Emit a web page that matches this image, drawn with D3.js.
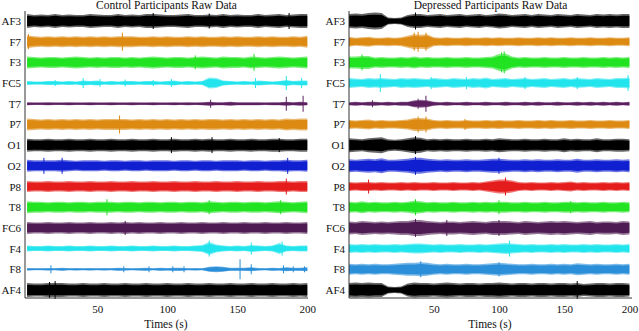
<!DOCTYPE html>
<html>
<head>
<meta charset="utf-8">
<script src="https://cdn.jsdelivr.net/npm/d3@7"></script>
<style>
  body { margin: 0; background: #fff; }
  svg { display: block; }
  svg text { font-family: "Liberation Serif", "DejaVu Serif", serif; fill: #111; }
</style>
</head>
<body>
<svg id="chart" width="639" height="331"></svg>
<script>
"use strict";

// channel names, top to bottom
var channels = ["AF3", "F7", "F3", "FC5", "T7", "P7", "O1", "O2", "P8", "T8", "FC6", "F4", "F8", "AF4"];
var channelColors = ["#000000", "#dc8a12", "#22e322", "#22e4ec", "#5c2060", "#dc8a12", "#000000",
                     "#1020d0", "#e51c1c", "#22e322", "#4e1c52", "#22e4ec", "#2a8ed8", "#000000"];
var timeTicks = [50, 100, 150, 200];

// envelope amplitude of each raw trace, read every 5 s (control: 0..200 s)
var controlTimes = [0, 5, 10, 15, 20, 25, 30, 35, 40, 45, 50, 55, 60, 65, 70, 75, 80, 85, 90, 95, 100,
                    105, 110, 115, 120, 125, 130, 135, 140, 145, 150, 155, 160, 165, 170, 175, 180, 185, 190, 195, 200];
var controlAF3 = [7,6,6.5,6,7,6,6.5,6,6,7, 6.5,6,6,7,6,6.5,6,7,7,6.5, 6,6,6.5,7,6,6,6.5,6,7,6, 6.5,6,6,7,6,6.5,7,6,6.5,7, 7];
var controlF7  = [6.5,5.5,5,5.5,5,5.5,5,5.5,5,5.5, 5,5.5,5,5.5,5.5,5.5,5,5,5.5,5, 5.5,5,5,5.5,5,5.5,5,5,5.5,5, 5.5,5,5,5.5,5,5.5,5,5,5.5,5, 6];
var controlF3  = [6,5.5,5,5.5,5.5,5,5.5,6,5.5,5, 5.5,5,5.5,5.5,5,5.5,5,5.5,6,5.5, 5,5.5,5.5,5,5.5,6,5.5,5,6,5.5, 5.5,5,6,5.5,5,5.5,6,5.5,5,5.5, 6];
var controlFC5 = [2,1.5,1.5,2,2,1.5,2,1.5,2.5,2, 2.5,1.5,2,1.5,2,2,1.5,2,2,1.5, 2,2.5,1.5,2,1.5,2,5.5,5,2.5,2, 1.5,2,1.5,2.5,2,1.5,2,3,2,2.5, 2.5];
var controlT7  = [1.5,1.2,1.2,1.5,1.2,1.2,1.5,1.2,1.2,1.5, 1.2,1.2,1.5,1.2,1.2,1.5,1.2,1.2,1.5,1.2, 1.2,1.5,1.2,1.5,1.2,1.5,2,1.5,1.5,2, 1.5,1.5,1.5,1.5,1.2,1.5,1.5,2,1.5,2, 1.5];
var controlP7  = [6,5.5,5,5.5,5,5.5,5,5.5,5,5.5, 5,5.5,5.5,5.5,5.5,5,5.5,5,5.5,5, 5.5,5,5.5,5,5.5,5,5.5,5.5,5,5.5, 5,5.5,5,5.5,5,5.5,5,6,5.5,6, 6];
var controlO1  = [6.5,6,6,6.5,6,6,6.5,6,6,6.5, 6,6,6.5,6,6,6.5,6,6,6.5,6, 6,6.5,6,6,6.5,6,6.5,6,6,6.5, 6,6,6.5,6,6,6.5,6.5,6,6,6.5, 6.5];
var controlO2  = [6,5.5,5.5,5.5,5.5,6,5.5,5,5.5,5.5, 5.5,5,5.5,5.5,5,5.5,5.5,5,5.5,5.5, 5.5,5,5.5,5.5,5,5.5,5.5,5,5.5,5.5, 5.5,5,5.5,5.5,5,5.5,5.5,6,5.5,5.5, 6];
var controlP8  = [5.5,5,5,5.5,5,5,5.5,5,5,5.5, 5,5,5.5,5,5,5.5,5,5,5.5,5, 5,5.5,5,5,5.5,5,5,5.5,5,5, 5.5,5,5,5.5,5,5,5.5,5.5,5,5.5, 5.5];
var controlT8  = [6,5.5,5.5,5,5.5,5.5,5,5.5,5.5,5, 5.5,5.5,5.5,5,5.5,5.5,5,5.5,5.5,5, 5.5,5.5,5,5.5,5.5,5,6,5.5,5,5.5, 5.5,5,5.5,5.5,5,5.5,6,5.5,5,5.5, 6];
var controlFC6 = [6,5.5,5.5,6,5.5,5.5,6,5.5,5.5,6, 5.5,5.5,6,5.5,6,5.5,6,5.5,5.5,6, 5.5,5.5,6,5.5,5.5,6,5.5,5.5,6,5.5, 5.5,6,5.5,5.5,6,5.5,5.5,6,5.5,5.5, 6];
var controlF4  = [3,2.5,2.5,3,2.5,2.5,3,2.5,2.5,3, 2.5,2.5,3,2.5,2.5,3,2.5,2.5,3,2.5, 2.5,3,2.5,2.5,3,3.5,6.5,4,3,2.5, 3,2.5,3.5,3,2.5,3,5.5,3,2.5,3, 3];
var controlF8  = [1.2,1,1,1.2,1,1.5,1,1.2,1,1.2, 1,1.2,1,1.5,1.2,1,1.2,1.5,1,1.5, 1.2,1.5,1.5,1,1.2,1,2.5,3,2.5,1.5, 1.5,1.5,2,1.2,1,1.5,1.2,2,1.5,1.5, 2];
var controlAF4 = [7,6.5,6.5,7,7,7,6.5,6.5,7,6.5, 6.5,7,6.5,6.5,7,6.5,6.5,7,6.5,6.5, 7,6.5,6.5,7,6.5,6.5,7,6.5,6.5,7, 6.5,6.5,7,6.5,6.5,7,6.5,6.5,7,6.5, 7];

// isolated spikes, [time (s), amplitude]
var controlSpikesAF3 = [[90, 8], [130, 7.5], [187, 8]];
var controlSpikesF7  = [[1, 7.5], [68, 9]];
var controlSpikesF3  = [[120, 7], [162, 8.5]];
var controlSpikesFC5 = [[20, 3], [40, 5], [52, 4], [70, 3.5], [90, 3], [103, 4], [163, 5], [185, 7], [196, 5]];
var controlSpikesT7  = [[131, 4], [185, 7], [197, 8]];
var controlSpikesP7  = [[66, 9]];
var controlSpikesO1  = [[103, 8], [132, 8], [180, 7]];
var controlSpikesO2  = [[12, 8], [25, 8], [186, 8]];
var controlSpikesP8  = [[185, 8]];
var controlSpikesT8  = [[57, 8], [130, 7], [181, 7]];
var controlSpikesFC6 = [[70, 7]];
var controlSpikesF4  = [[130, 8], [160, 6], [182, 7]];
var controlSpikesF8  = [[17, 4], [69, 3], [87, 3], [104, 3], [112, 3], [152, 10], [160, 5], [183, 4], [190, 3], [198, 3]];
var controlSpikesAF4 = [[16, 8], [20, 9]];

// depressed: recording starts a little before 0 s
var depressedTimes = [-15, -10, -5, 0, 5, 10, 15, 20, 25, 30, 35, 40, 45, 50, 55, 60, 65, 70, 75, 80, 85, 90,
                      95, 100, 105, 110, 115, 120, 125, 130, 135, 140, 145, 150, 155, 160, 165, 170, 175, 180, 185, 190, 195, 200];
var depressedAF3 = [7,7.5,7,8,8.5,8,3.5,3,3.5,6, 7,7,6,6.5,7,6,6.5,7,6,6.5, 7,6,6.5,7.5,7,6,6.5,7,6,7, 6.5,6,7,6.5,6,7,6.5,6,7,6.5, 7,6.5,7,7];
var depressedF7  = [5,4,4.5,5,4,4,4.5,4,4.5,6, 7.5,7,7.5,4.5,4,4.5,4,4,4.5,4, 4,4.5,4,4.5,4,4,4.5,4,4,4.5, 4,4.5,4,4,4.5,4,4,4.5,4,4, 4.5,4,4,4.5];
var depressedF3  = [6,6,6.5,6.5,5,5.5,5,5,5.5,5, 6,5,5.5,5,5,5.5,5,5,5.5,5, 5,5.5,6,8.5,9,6,5,5.5,5,5, 5.5,5,5,5.5,5,5,5.5,5,5,5.5, 5,5.5,5,5.5];
var depressedFC5 = [5,4.5,4,5,4.5,5,4.5,4,5,4.5, 5,4.5,4,5,4.5,4,5,4.5,4,5, 4.5,5.5,4,4.5,5,4,4.5,5,4,4.5, 5,4,4.5,5,4,5,4.5,4,5,4.5, 4,5,5,5.5];
var depressedT7  = [1.5,2,1.5,2,2,1.5,2,1.5,2,2, 3.5,4,3.5,2,1.5,2,1.5,1.5,2,1.5, 1.5,2,1.5,1.5,2,1.5,1.5,2,1.5,2, 1.5,1.5,2,1.5,1.5,2,1.5,2,1.5,2, 1.5,2,1.5,2];
var depressedP7  = [4.5,4,4.5,5,4,4.5,4,4,4.5,5, 6.5,6.5,6,4.5,4,4.5,4,4,4.5,4, 4,4.5,4,4.5,4,4,4.5,4,4,4.5, 4,4.5,4,4,4.5,4,4,4.5,4,4, 4.5,4,4,4.5];
var depressedO1  = [7,6.5,6,7,7.5,8,6,5.5,6,7, 8,7.5,6,6.5,6,6.5,6,6,6.5,6, 6,6.5,6,7,6.5,6,6,6.5,6,6, 6.5,6,6,7,6,6.5,6,6,7,6, 6,6.5,6.5,6];
var depressedO2  = [6.5,6,6.5,7,6.5,7.5,6,6,6.5,7, 8,8,7,6.5,6,6.5,6,6,6.5,6, 6,6.5,7,7,6.5,6,6,6.5,6,6.5, 6,6,6.5,6,6,7,6,6,6.5,6, 6,6.5,6,6.5];
var depressedP8  = [4.5,4,4.5,4.5,4,4.5,4,4,4.5,4, 4.5,4,4,4.5,4,4,4.5,4,4,4.5, 4,5,6,7,7,6,4.5,4,4.5,4, 4,4.5,4,4.5,5,4,4.5,4,4,4.5, 4,4.5,4,4.5];
var depressedT8  = [5.5,5,6,5,5.5,5,5,5.5,5,5.5, 6.5,6,5,5.5,5,5,5.5,5,5,5.5, 5,5.5,5,5.5,5.5,5,5,5.5,5,5, 5.5,5,5,5.5,5.5,5,5.5,5,5,5.5, 5,5,5.5,5];
var depressedFC6 = [6.5,6,7,6.5,6,6.5,6,6.5,7,7, 8,8,7,6.5,6,6.5,6.5,6,6.5,7, 6.5,6,7,7,7,6.5,6,7,6.5,6, 6.5,7,6.5,7,6.5,6,6.5,7,6,6.5, 6.5,6,7,6.5];
var depressedF4  = [4.5,4,4.5,4,4.5,4,4,4.5,4,4.5, 5,5,4.5,4,4.5,4,4,4.5,4,4, 4.5,4,4.5,5,5.5,5,4.5,4,4.5,4, 4,4.5,4,4.5,4,4,4.5,4,4.5,4, 4,4.5,4,4.5];
var depressedF8  = [5.5,5,5.5,5,5.5,5,5,5.5,6,6.5, 6.5,7,6.5,5.5,5,5.5,5,5,5.5,5, 5,5.5,6,6.5,6,5.5,5,5,5.5,5, 5,5.5,5,5.5,5,6,5.5,5,5.5,5, 5,5.5,5,5.5];
var depressedAF4 = [7,7.5,7,7.5,7,7,3.5,3,3.5,6.5, 7.5,7,7,6.5,7,7.5,7,6.5,7,7, 6.5,7,7,7.5,7,6.5,7,7,6.5,7, 7,6.5,7,7,6.5,7,6,6.5,7,7, 6.5,7,7,6.5];

var depressedSpikesAF3 = [[36, 8.5]];
var depressedSpikesF7  = [[35, 9], [38, 10], [44, 9]];
var depressedSpikesF3  = [[-5, 8], [102, 10], [104, 11]];
var depressedSpikesFC5 = [[9, 9], [48, 6], [75, 6], [120, 6], [160, 6], [199, 8]];
var depressedSpikesT7  = [[3, 3.5], [38, 5], [44, 8]];
var depressedSpikesP7  = [[38, 8], [44, 8], [74, 5.5]];
var depressedSpikesO1  = [[36, 9]];
var depressedSpikesO2  = [[36, 9], [100, 8]];
var depressedSpikesP8  = [[0, 7], [105, 9]];
var depressedSpikesT8  = [[36, 8], [100, 7], [155, 6]];
var depressedSpikesFC6 = [[36, 9], [60, 8], [100, 8]];
var depressedSpikesF4  = [[108, 8]];
var depressedSpikesF8  = [[40, 8], [100, 7]];
var depressedSpikesAF4 = [[160, 9]];

var controlData = [controlAF3, controlF7, controlF3, controlFC5, controlT7, controlP7, controlO1,
                   controlO2, controlP8, controlT8, controlFC6, controlF4, controlF8, controlAF4];
var controlSpikes = [controlSpikesAF3, controlSpikesF7, controlSpikesF3, controlSpikesFC5, controlSpikesT7,
                     controlSpikesP7, controlSpikesO1, controlSpikesO2, controlSpikesP8, controlSpikesT8,
                     controlSpikesFC6, controlSpikesF4, controlSpikesF8, controlSpikesAF4];
var depressedData = [depressedAF3, depressedF7, depressedF3, depressedFC5, depressedT7, depressedP7, depressedO1,
                     depressedO2, depressedP8, depressedT8, depressedFC6, depressedF4, depressedF8, depressedAF4];
var depressedSpikes = [depressedSpikesAF3, depressedSpikesF7, depressedSpikesF3, depressedSpikesFC5, depressedSpikesT7,
                       depressedSpikesP7, depressedSpikesO1, depressedSpikesO2, depressedSpikesP8, depressedSpikesT8,
                       depressedSpikesFC6, depressedSpikesF4, depressedSpikesF8, depressedSpikesAF4];

var svg = d3.select("#chart");

function drawPanel(opts) {
    var g = svg.append("g");

    var x = d3.scaleLinear().domain(opts.domain).range([opts.left, opts.right]);
    var rows = d3.scalePoint().domain(channels).range([21, 290]);
    // amplitude scale, relative to each row's centre
    var amp = d3.scaleLinear().domain([-10, 10]).range([10, -10]);

    channels.forEach(function (ch, c) {
        var vals = opts.data[c];
        var cy = rows(ch);
        var col = channelColors[c];
        // outer fringe of the noise band, then the dense core
        [[1, 0.6], [0.75, 1]].forEach(function (layer) {
            var area = d3.area()
                .x(function (d, i) { return x(opts.times[i]); })
                .y0(function (d) { return cy + amp(-d * layer[0]); })
                .y1(function (d) { return cy + amp(d * layer[0]); });
            g.append("path")
                .datum(vals)
                .attr("d", area)
                .attr("fill", col)
                .attr("fill-opacity", layer[1]);
        });
        g.selectAll(null)
            .data(opts.spikes[c])
            .enter()
            .append("line")
            .attr("x1", function (d) { return x(d[0]); })
            .attr("x2", function (d) { return x(d[0]); })
            .attr("y1", function (d) { return cy + amp(d[1]); })
            .attr("y2", function (d) { return cy + amp(-d[1]); })
            .attr("stroke", col)
            .attr("stroke-width", 1);
    });

    // channel axis
    var yAxis = d3.axisLeft(rows).tickSize(0).tickPadding(4);
    var ya = g.append("g")
        .attr("transform", "translate(" + opts.left + ",0)")
        .call(yAxis)
        .attr("font-family", null)
        .attr("font-size", 11);
    ya.select(".domain").attr("d", "M0,11V298").attr("stroke", "#333");

    // time axis
    var xAxis = d3.axisBottom(x).tickValues(timeTicks).tickSize(0).tickPadding(7)
        .tickFormat(d3.format("d"));
    var xa = g.append("g")
        .attr("transform", "translate(0,298)")
        .call(xAxis)
        .attr("font-family", null)
        .attr("font-size", 11);
    xa.select(".domain").attr("d", "M" + opts.left + ",0H" + opts.right).attr("stroke", "#333");

    g.append("text")
        .attr("x", (opts.left + opts.right) / 2)
        .attr("y", 9)
        .attr("text-anchor", "middle")
        .attr("font-size", 11.5)
        .text(opts.title);

    g.append("text")
        .attr("x", opts.labelX)
        .attr("y", 328)
        .attr("text-anchor", "middle")
        .attr("font-size", 11.5)
        .text("Times (s)");
}

drawPanel({ title: "Control Participants Raw Data", times: controlTimes, data: controlData, spikes: controlSpikes,
            domain: [-1.5, 200.5], left: 25, right: 308, labelX: 166 });
drawPanel({ title: "Depressed Participants Raw Data", times: depressedTimes, data: depressedData, spikes: depressedSpikes,
            domain: [-15, 202], left: 349, right: 632, labelX: 490 });
</script>
</body>
</html>
